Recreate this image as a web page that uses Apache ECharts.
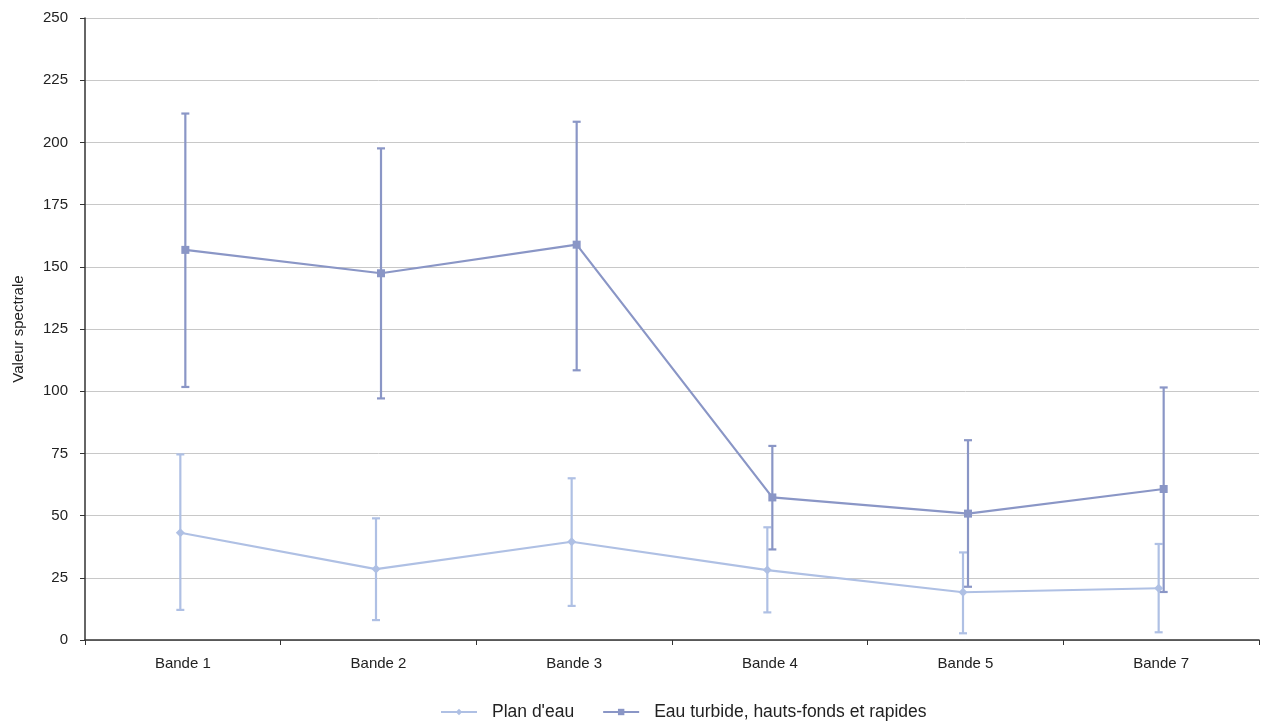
<!DOCTYPE html>
<html>
<head>
<meta charset="utf-8">
<script src="https://cdn.jsdelivr.net/npm/echarts@6/dist/echarts.min.js"></script>
<style>html,body{margin:0;padding:0;background:#fff}#c{width:1261px;height:727px}</style>
</head>
<body>
<div id="c"></div>
<script>
const categories = ['Bande 1', 'Bande 2', 'Bande 3', 'Bande 4', 'Bande 5', 'Bande 7'];
const seriesNames = ["Plan d'eau", 'Eau turbide, hauts-fonds et rapides'];
const planMean = [43.1, 28.5, 39.5, 28.1, 19.2, 20.8];
const planLow = [12.1, 8.0, 13.7, 11.1, 2.7, 3.1];
const planHigh = [74.6, 48.9, 65.0, 45.3, 35.2, 38.6];
const turbMean = [156.8, 147.4, 158.9, 57.3, 50.8, 60.7];
const turbLow = [101.7, 97.1, 108.4, 36.4, 21.4, 19.3];
const turbHigh = [211.6, 197.6, 208.3, 78.0, 80.3, 101.5];
const yTicks = [0, 25, 50, 75, 100, 125, 150, 175, 200, 225, 250];

const colLight = '#afc0e4';
const colDark = '#8a96c6';
const shift = 0.0128;

function pts(mean, dx) { return mean.map((v, i) => [i + dx, v]); }
function bars(low, high, dx) { return low.map((v, i) => [i + dx, v, high[i]]); }
function errSeries(data, color) {
  return {
    type: 'custom', xAxisIndex: 1, silent: true, z: 1,
    data: data,
    renderItem: function (params, api) {
      const x = api.value(0);
      const lo = api.coord([x, api.value(1)]);
      const hi = api.coord([x, api.value(2)]);
      const w = 4;
      const st = { stroke: color, lineWidth: 2.2 };
      return { type: 'group', children: [
        { type: 'line', shape: { x1: lo[0], y1: lo[1], x2: hi[0], y2: hi[1] }, style: st },
        { type: 'line', shape: { x1: lo[0] - w, y1: lo[1], x2: lo[0] + w, y2: lo[1] }, style: st },
        { type: 'line', shape: { x1: hi[0] - w, y1: hi[1], x2: hi[0] + w, y2: hi[1] }, style: st }
      ]};
    }
  };
}

const chart = echarts.init(document.getElementById('c'));
chart.setOption({
  animation: false,
  textStyle: { fontFamily: 'Liberation Sans, Arial, sans-serif' },
  grid: { left: 85, right: 2, top: 18, bottom: 87 },
  legend: {
    bottom: 1, left: 435, itemWidth: 36, itemHeight: 8, itemGap: 28,
    textStyle: { fontSize: 17.5, color: '#222', padding: [0, 0, 0, 10] },
    data: seriesNames
  },
  xAxis: [
    {
      type: 'category', data: categories, boundaryGap: true,
      axisLine: { onZero: false, lineStyle: { color: '#333', width: 1.5 } },
      axisTick: { show: true, length: 5, lineStyle: { color: '#333' } },
      axisLabel: { fontSize: 15, color: '#222', margin: 16 },
      splitLine: { show: false }
    },
    { type: 'value', min: -0.5, max: 5.5, show: false }
  ],
  yAxis: {
    type: 'value', min: 0, max: 250, interval: 25,
    name: 'Valeur spectrale', nameLocation: 'middle', nameGap: 59, nameRotate: 90,
    nameTextStyle: { fontSize: 15, color: '#222' },
    axisLine: { show: true, onZero: false, lineStyle: { color: '#333', width: 1.5 } },
    axisTick: { show: true, length: 5, lineStyle: { color: '#333' } },
    axisLabel: { fontSize: 15, color: '#222', margin: 17, formatter: v => yTicks.includes(v) ? String(v) : '' },
    splitLine: { lineStyle: { color: '#c8c8c8', width: 1 } }
  },
  series: [
    errSeries(bars(planLow, planHigh, -shift), colLight),
    errSeries(bars(turbLow, turbHigh, shift), colDark),
    {
      name: seriesNames[0], type: 'line', xAxisIndex: 1, z: 3,
      data: pts(planMean, -shift),
      symbol: 'diamond', symbolSize: 9,
      lineStyle: { color: colLight, width: 2.2 },
      itemStyle: { color: colLight }
    },
    {
      name: seriesNames[1], type: 'line', xAxisIndex: 1, z: 3,
      data: pts(turbMean, shift),
      symbol: 'rect', symbolSize: 8,
      lineStyle: { color: colDark, width: 2.2 },
      itemStyle: { color: colDark }
    }
  ]
});
</script>
</body>
</html>
